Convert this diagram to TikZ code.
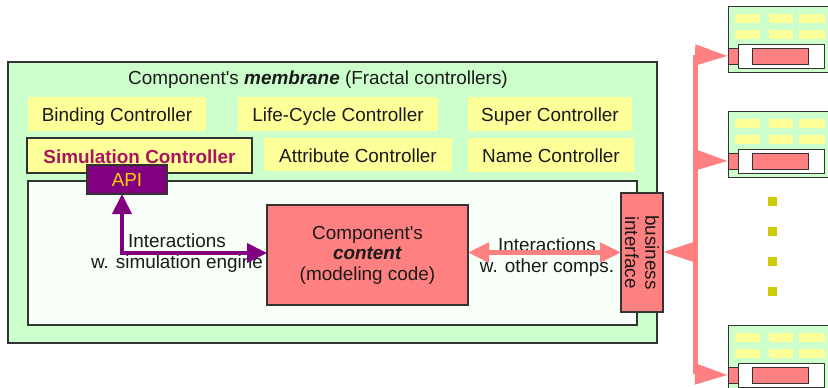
\documentclass[tikz,border=0pt]{standalone}
\usepackage{fontspec}
\setmainfont{Liberation Sans}
\usetikzlibrary{arrows.meta}

\definecolor{memgreen}{HTML}{CCFFCC}
\definecolor{ctrlyellow}{HTML}{FFFF99}
\definecolor{pinkc}{HTML}{FF8080}
\definecolor{purp}{HTML}{800080}
\definecolor{apitext}{HTML}{FFCC00}
\definecolor{simtext}{HTML}{A8145F}
\definecolor{edge}{HTML}{333333}
\definecolor{innerwhite}{HTML}{F8FFF8}
\definecolor{dotcol}{HTML}{CCCC00}
\definecolor{ink}{HTML}{1A1A1A}

\tikzset{
  nw/.style={anchor=north west, inner sep=0pt, outer sep=0pt},
  membox/.style={draw=edge, fill=memgreen, line width=1.2pt},
  ctrlbox/.style={fill=ctrlyellow, text=ink, text height=17pt, text depth=2pt},
  innerbox/.style={draw=edge, fill=innerwhite, line width=1.2pt},
  apibox/.style={draw=edge, fill=purp, text=apitext, line width=1.2pt},
  contentbox/.style={draw=edge, fill=pinkc, text=ink, line width=1.2pt, align=center},
  bibox/.style={draw=edge, fill=pinkc, line width=1.2pt},
  lbl/.style={text=ink, align=center, inner sep=0pt},
  purparrow/.style={draw=purp, line width=4pt,
    {Triangle[length=20pt,width=19pt]}-{Triangle[length=20pt,width=19pt]}},
  pinkarrow/.style={draw=pinkc, line width=5pt,
    {Triangle[length=21pt,width=19pt]}-{Triangle[length=21pt,width=19pt]}},
  busline/.style={draw=pinkc, line width=5pt},
  busarrow/.style={draw=pinkc, line width=5pt, -{Triangle[length=33pt,width=20pt]}},
  dotbox/.style={fill=dotcol, minimum size=9pt, inner sep=0pt},
}

% a small component: membrane, controllers, content and its interface
\tikzset{
  minicomp/.pic={
    \node[membox, line width=1pt, nw, minimum width=112pt, minimum height=66pt] (-box) at (0,0) {};
    \fill[ctrlyellow] (7,8) rectangle (32,17);
    \fill[ctrlyellow] (41,8) rectangle (65,17);
    \fill[ctrlyellow] (71,8) rectangle (97,17);
    \fill[ctrlyellow] (7,24) rectangle (32,33);
    \fill[ctrlyellow] (41,24) rectangle (65,33);
    \fill[ctrlyellow] (71,24) rectangle (97,33);
    \node[innerbox, line width=1pt, fill=white, nw, minimum width=86pt, minimum height=24pt] (-inner) at (10,38) {};
    \node[contentbox, line width=1pt, nw, minimum width=56pt, minimum height=16pt] (-content) at (24,42) {};
    \node[bibox, line width=1pt, nw, minimum width=10pt, minimum height=16pt] (-if) at (0,42) {};
  }
}

\begin{document}
\begin{tikzpicture}[x=1pt, y=-1pt, font=\fontsize{18.9}{20.5}\selectfont]
\useasboundingbox (0,0) rectangle (828,388);
\clip (0,0) rectangle (828,388);
\fill[white] (0,0) rectangle (828,388);

% membrane with its controllers
\node[membox, nw, minimum width=649pt, minimum height=281pt] (membrane) at (8,62) {};
\node[lbl, anchor=base] (title) at (318,84) {Component\textquotesingle s \textbf{\textit{membrane}} (Fractal controllers)};

\node[ctrlbox, nw, minimum width=178pt, minimum height=34pt] (binding) at (28,97) {Binding Controller};
\node[ctrlbox, nw, minimum width=200pt, minimum height=34pt] (lifecycle) at (238,97) {Life-Cycle Controller};
\node[ctrlbox, nw, minimum width=164pt, minimum height=34pt] (super) at (468,97) {Super Controller};
\node[ctrlbox, draw=edge, line width=1.2pt, nw, minimum width=225pt, minimum height=35pt] (simctrl) at (27,138)
  {\textcolor{simtext}{\bfseries Simulation Controller}};
\node[ctrlbox, nw, minimum width=188pt, minimum height=33pt] (attribute) at (264,138) {Attribute Controller};
\node[ctrlbox, nw, minimum width=166pt, minimum height=34pt] (name) at (468,138) {Name Controller};

% inside of the component
\node[innerbox, nw, minimum width=609pt, minimum height=144pt] (inner) at (28,181) {};
\node[apibox, nw, minimum width=80pt, minimum height=29pt] (api) at (87,165) {API};
\node[contentbox, nw, minimum width=201pt, minimum height=100pt] (content) at (267,205)
  {Component\textquotesingle s\\\textbf{\textit{content}}\\(modeling code)};
\node[bibox, nw, minimum width=42pt, minimum height=119pt] (bi) at (621,193) {};
\node[lbl, rotate=-90] (bitext) at (bi.center) {business\\interface};

% interactions
\node[lbl] (simlabel) at (177,253) {Interactions\\w. simulation engine};
\node[lbl] (complabel) at (547,257) {Interactions\\w. other comps.};
\coordinate (apitip) at ([xshift=-5pt]api.south);
\coordinate (contentin) at ([yshift=2pt]content.west);
\draw[purparrow] (apitip) |- (contentin);
\draw[pinkarrow] (content.east |- bi.west) -- (bi.west);

% other components on the bus
\pic (c1) at (728,6) {minicomp};
\pic (c2) at (728,111) {minicomp};
\pic (c3) at (728,325) {minicomp};
\node[dotbox] (dot1) at (772.5,201.5) {};
\node[dotbox] (dot2) at (772.5,231.5) {};
\node[dotbox] (dot3) at (772.5,261.5) {};
\node[dotbox] (dot4) at (772.5,291.5) {};

\coordinate (bus1) at (695,55);
\coordinate (bus2) at (695,160);
\coordinate (busbi) at (695,252);
\coordinate (bus3) at (695,374);
\draw[busline] (bus1) -- (bus3);
\draw[busarrow] (bus1) -- (c1-if.west);
\draw[busarrow] (bus2) -- (c2-if.west);
\draw[busarrow] (busbi) -- (bi.east |- busbi);
\draw[busarrow] (bus3) -- (c3-if.west);
\end{tikzpicture}
\end{document}
